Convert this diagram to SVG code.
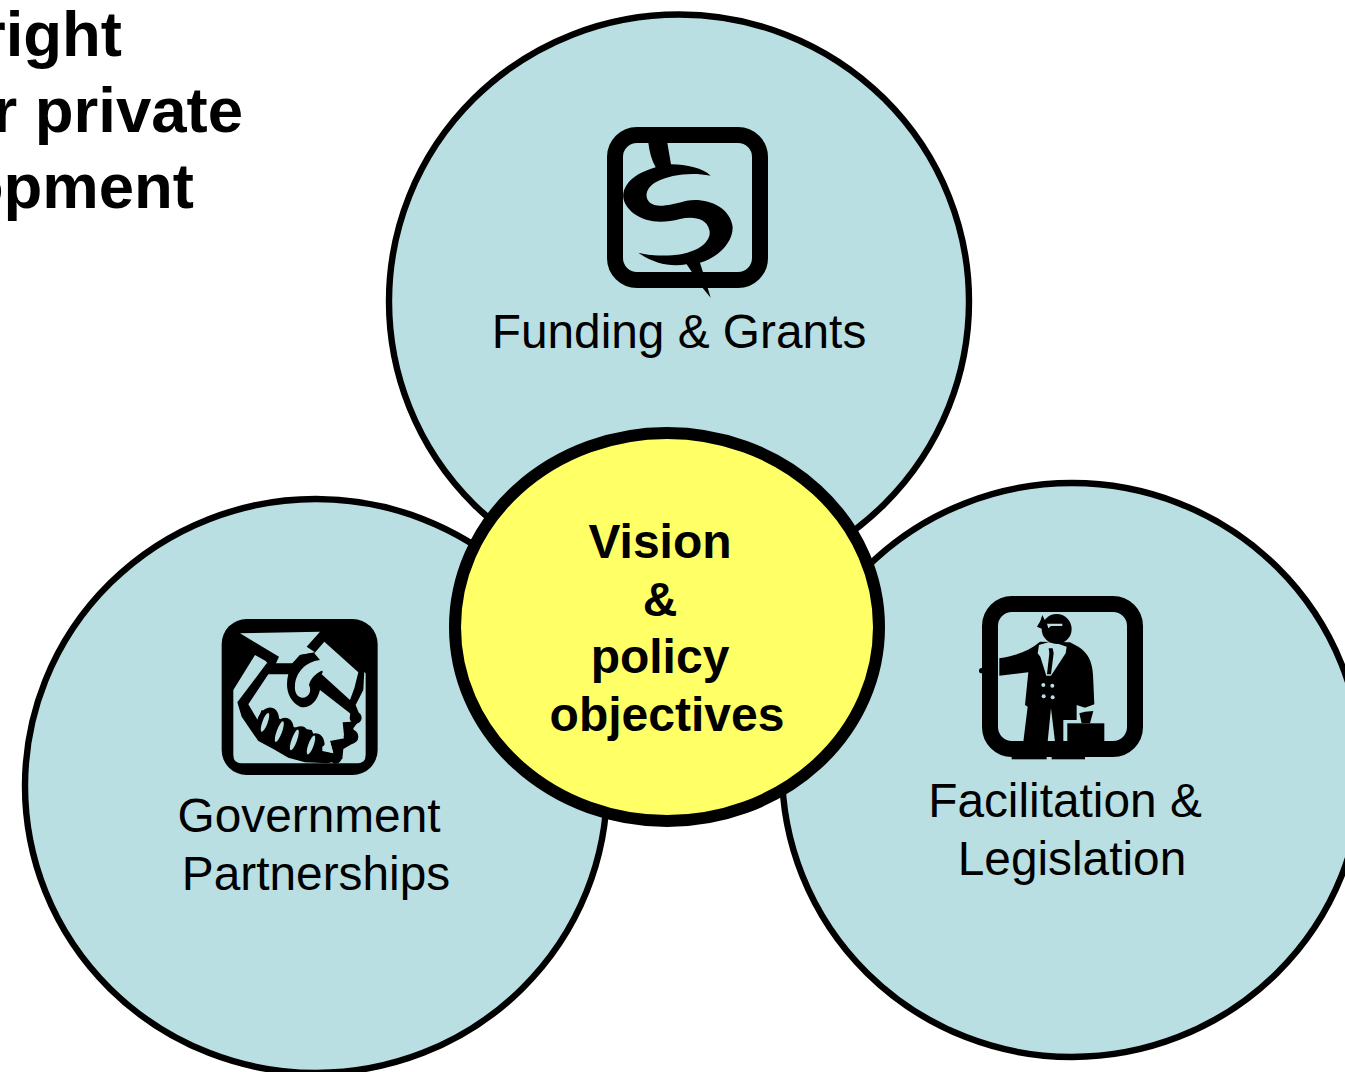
<svg xmlns="http://www.w3.org/2000/svg" width="1345" height="1072" viewBox="0 0 1345 1072">
<style>
text{font-family:"Liberation Sans",Arial,sans-serif;fill:#000}
.c{fill:#b9dfe3;stroke:#000;stroke-width:6.400}
.l{font-size:47.800px;text-anchor:middle}
.b{font-size:48px;font-weight:bold;text-anchor:middle}
.t{font-size:63.500px;font-weight:bold;text-anchor:end}
.f{fill:none;stroke:#000;stroke-width:16}
.bg{fill:#b9dfe3}
</style>
<rect width="1345" height="1072" fill="#fff"/>
<g id="title">
<text class="t" x="122" y="56">right</text>
<text class="t" x="243" y="132">r private</text>
<text class="t" x="194" y="208">opment</text>
</g>
<g id="connectors"/>
<g id="funding">
<ellipse class="c" cx="679" cy="301.500" rx="290" ry="287"/>
<rect class="f" x="615" y="135" width="145" height="145" rx="22"/>
<path transform="translate(590,110) scale(.3333)" d="M175 98H232L243 163C290 163 340 175 362 197C300 185 240 195 200 215C170 230 160 260 180 278C200 295 240 285 290 272C350 262 420 290 428 350C430 400 380 445 330 458L340 490L362 563L335 530L290 463C240 472 190 460 145 428C190 440 260 440 300 425C340 415 365 385 358 360C350 325 310 318 270 327C220 340 170 340 130 310C100 285 90 255 110 225C125 200 160 183 197 172C185 150 178 125 175 98Z"/>
<text class="l" x="679" y="348">Funding &amp; Grants</text>
</g>
<g id="government">
<ellipse class="c" cx="316" cy="786" rx="291" ry="287"/>
<g transform="translate(205,605) scale(.3333)">
<rect x="50" y="42" width="468" height="468" rx="75"/>
<path class="bg" d="M105 85L345 80L305 125L330 142L285 150L262 177H212L222 155Z"/>
<path class="bg" d="M85 255L150 150L182 168L190 178H262L335 142L358 107L482 205V450Q482 475 457 475H110Q85 475 85 450Z"/>
<path d="M97 292L185 175H262L285 150L335 142L358 100L478 198L475 255L452 300L468 340L445 370L450 412L415 432L412 462L370 475L300 472L250 458L205 432L160 408L135 372L110 335Z"/>
<path class="bg" d="M190 208H250C240 245 248 285 285 305C310 312 335 295 345 255L435 325L438 350L413 352L418 400L375 408L385 445L345 432L320 375L260 365L215 335L170 315L158 345L130 298Z"/>
<path class="bg" d="M358 110L460 202L448 250L435 285L350 208C355 200 353 197 350 197C330 205 315 225 312 240C322 260 310 280 290 278C275 275 268 260 270 240C272 205 300 170 345 165L328 145Z"/>
<ellipse cx="188" cy="352" rx="32" ry="46" transform="rotate(20 188 352)"/>
<ellipse cx="232" cy="385" rx="32" ry="48" transform="rotate(20 232 385)"/>
<ellipse cx="278" cy="410" rx="32" ry="48" transform="rotate(20 278 410)"/>
<ellipse cx="325" cy="428" rx="32" ry="44" transform="rotate(20 325 428)"/>
<circle cx="452" cy="338" r="18"/><circle cx="438" cy="395" r="22"/><circle cx="392" cy="458" r="18"/>
<path class="bg" d="M352 425L375 408L385 445L352 438Z"/>
<ellipse cx="180" cy="352" rx="8" ry="30" transform="rotate(20 180 352)" class="bg"/>
<ellipse cx="223" cy="380" rx="8" ry="33" transform="rotate(20 223 380)" class="bg"/>
<ellipse cx="268" cy="405" rx="8" ry="33" transform="rotate(20 268 405)" class="bg"/>
<ellipse cx="318" cy="420" rx="8" ry="30" transform="rotate(20 318 420)" class="bg"/>
</g>
<text class="l" x="309" y="832">Government</text>
<text class="l" x="316" y="890">Partnerships</text>
</g>
<g id="facilitation">
<ellipse class="c" cx="1072" cy="770" rx="290" ry="287"/>
<rect class="f" x="990" y="604" width="145" height="145" rx="22"/>
<g transform="translate(965,585) scale(.3333)">
<path d="M103 220C150 212 190 200 225 170L315 172L340 185C370 205 385 230 385 290L388 358L360 368L335 360V405H295V470H270L258 370L248 470H175L188 365L180 360L190 262L103 272Z"/>
<path d="M343 385L360 380L385 378L375 415H350Z"/>
<rect x="307" y="415" width="111" height="55"/>
<path fill="#b9dfe3" d="M222 180L250 172H266L305 185L302 205L258 272H244L226 215L218 205Z"/>
<path d="M251 190H263L266 205L258 268H246L253 205Z"/>
<circle cx="275" cy="132" r="45"/>
<path d="M232 90L242 110L232 132L216 125L226 108Z"/>
<path fill="#b9dfe3" d="M246 116H292V123H258L250 130Z"/>
<circle cx="235" cy="300" r="6" fill="#b9dfe3"/><circle cx="262" cy="302" r="6" fill="#b9dfe3"/>
<circle cx="236" cy="334" r="6" fill="#b9dfe3"/><circle cx="263" cy="337" r="6" fill="#b9dfe3"/>
<circle cx="50" cy="257" r="8"/>
<rect x="140" y="516" width="105" height="7"/><rect x="260" y="516" width="100" height="7"/>
</g>
<text class="l" x="1065" y="817">Facilitation &amp;</text>
<text class="l" x="1072" y="875">Legislation</text>
</g>
<g id="vision">
<ellipse cx="667" cy="627" rx="212" ry="194" fill="#ffff66" stroke="#000" stroke-width="12"/>
<text class="b" x="660" y="558">Vision</text>
<text class="b" x="660" y="616">&amp;</text>
<text class="b" x="660" y="673">policy</text>
<text class="b" x="667" y="731">objectives</text>
</g>
</svg>
